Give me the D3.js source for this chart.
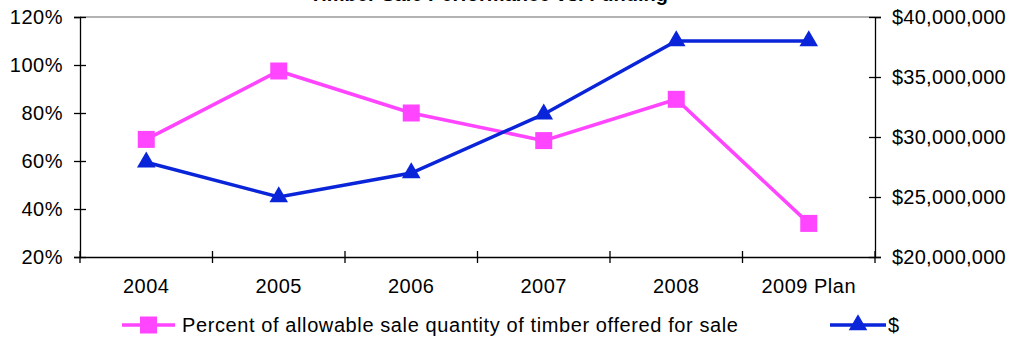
<!DOCTYPE html>
<html><head><meta charset="utf-8">
<script src="https://cdn.jsdelivr.net/npm/d3@7/dist/d3.min.js"></script>
<style>html,body{margin:0;padding:0;background:#fff;} svg{display:block;font-family:"Liberation Sans",Arial,sans-serif;}</style>
</head><body>
<script>
const title = "Timber Sale Performance vs. Funding";
const categories = ["2004","2005","2006","2007","2008","2009 Plan"];
const percentValues = [0.69, 0.975, 0.80, 0.685, 0.857, 0.34];
const dollarValues = [27900000, 25000000, 27000000, 31900000, 38000000, 38000000];
const leftTicks = [0.2,0.4,0.6,0.8,1.0,1.2];
const rightTicks = [20000000,25000000,30000000,35000000,40000000];
const seriesNames = ["Percent of allowable sale quantity of timber offered for sale", "$"];

const W = 1013, H = 339;
const m = {left:80, right:875, top:17, bottom:257};
const pink = "#ff45ff", blue = "#0a25d9";

const svg = d3.select("body").append("svg").attr("width",W).attr("height",H);

const x = d3.scaleBand().domain(categories).range([m.left,m.right]);
const yL = d3.scaleLinear().domain([0.2,1.2]).range([m.bottom,m.top]);
const yR = d3.scaleLinear().domain([20000000,40000000]).range([m.bottom,m.top]);

// title (mostly cut off at top, as in the reference)
svg.append("text").attr("x",668).attr("y",1).attr("text-anchor","end")
  .attr("font-size",20).attr("font-weight","bold").text(title);

// top border
svg.append("line").attr("x1",m.left).attr("x2",m.right).attr("y1",m.top).attr("y2",m.top)
  .attr("stroke","#999").attr("stroke-width",1.5);

const fs = 20;
// left axis
const gL = svg.append("g").attr("transform",`translate(${m.left},0)`)
  .call(d3.axisLeft(yL).tickValues(leftTicks).tickFormat(d3.format(".0%")).tickSize(6).tickPadding(11));
gL.selectAll(".tick line").attr("x2",6).attr("x1",-6);
// right axis
const gR = svg.append("g").attr("transform",`translate(${m.right},0)`)
  .call(d3.axisRight(yR).tickValues(rightTicks).tickFormat(d => "$" + d3.format(",")(d)).tickSize(6).tickPadding(11));
gR.selectAll(".tick line").attr("x1",-6).attr("x2",6);
// bottom axis
const gB = svg.append("g").attr("transform",`translate(0,${m.bottom})`)
  .call(d3.axisBottom(x).tickSize(0).tickPadding(22));
const bounds = categories.map(c => x(c)).concat([m.right]);
gB.selectAll(".bt").data(bounds).enter().append("line").attr("class","bt")
  .attr("x1",d=>d).attr("x2",d=>d).attr("y1",-6).attr("y2",6).attr("stroke","#000");

[gL,gR,gB].forEach(g => {
  g.selectAll("text").attr("font-size",fs).attr("fill","#000").attr("font-family","Liberation Sans, Arial, sans-serif");
  g.selectAll("path.domain,line").attr("stroke","#000").attr("stroke-width",1.3);
});
gL.selectAll("text").attr("letter-spacing",0.5);
gB.selectAll("text").attr("letter-spacing",0.5);
gR.selectAll("text").attr("letter-spacing",0.25);

const cx = d => x(d) + x.bandwidth()/2;

// pink series
const linePct = d3.line().x((d,i)=>cx(categories[i])).y(d=>yL(d));
svg.append("path").datum(percentValues).attr("d",linePct).attr("fill","none")
  .attr("stroke",pink).attr("stroke-width",3.5);
const sq = d3.symbol().type(d3.symbolSquare).size(17*17);
svg.selectAll(".sq").data(percentValues).enter().append("path")
  .attr("transform",(d,i)=>`translate(${cx(categories[i])},${yL(d)})`)
  .attr("d",sq).attr("fill",pink);

// blue series
const lineD = d3.line().x((d,i)=>cx(categories[i])).y(d=>yR(d));
svg.append("path").datum(dollarValues).attr("d",lineD).attr("fill","none")
  .attr("stroke",blue).attr("stroke-width",3.5);
const tri = d3.symbol().type(d3.symbolTriangle).size(150);
svg.selectAll(".tri").data(dollarValues).enter().append("path")
  .attr("transform",(d,i)=>`translate(${cx(categories[i])},${yR(d)})`)
  .attr("d",tri).attr("fill",blue);

// legend
const ly = 325;
const lg = svg.append("g");
lg.append("line").attr("x1",122).attr("x2",175).attr("y1",ly).attr("y2",ly).attr("stroke",pink).attr("stroke-width",3.5);
lg.append("path").attr("transform",`translate(148.5,${ly})`).attr("d",sq).attr("fill",pink);
lg.append("text").attr("x",182).attr("y",ly+7).attr("font-size",fs).attr("letter-spacing",0.6).text(seriesNames[0]);
lg.append("line").attr("x1",830).attr("x2",886).attr("y1",ly).attr("y2",ly).attr("stroke",blue).attr("stroke-width",3.5);
lg.append("path").attr("transform",`translate(858,${ly})`).attr("d",tri).attr("fill",blue);
lg.append("text").attr("x",888).attr("y",ly+7).attr("font-size",fs).text(seriesNames[1]);
</script>
</body></html>
